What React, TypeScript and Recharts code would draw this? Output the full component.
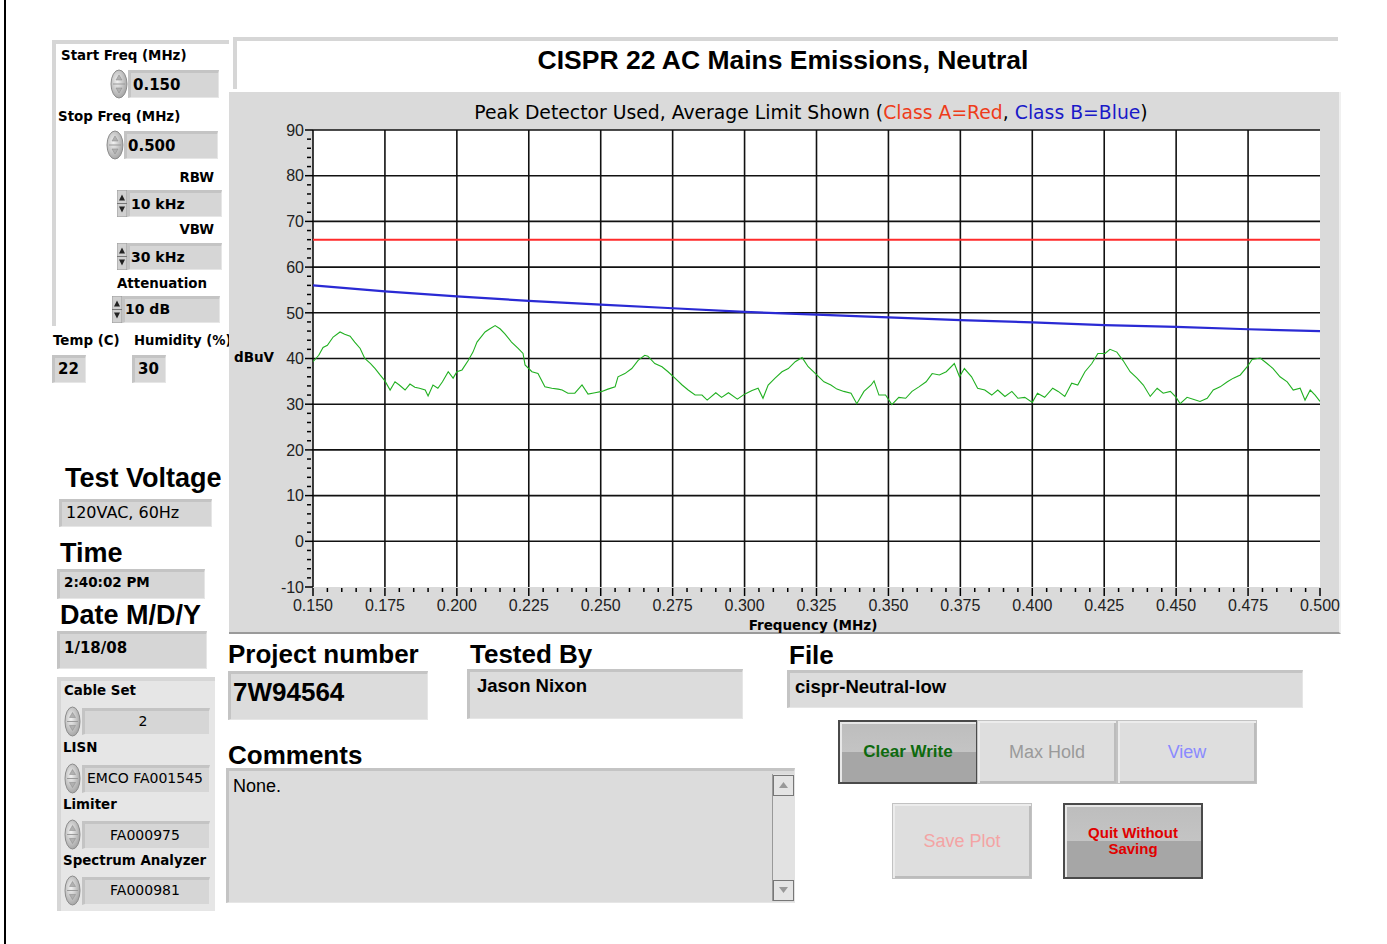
import React from "react";
import { LineChart, Line, XAxis, YAxis, CartesianGrid } from "recharts";

// ---- chart data ----
const xMajorTicks = [0.15, 0.175, 0.2, 0.225, 0.25, 0.275, 0.3, 0.325, 0.35, 0.375, 0.4, 0.425, 0.45, 0.475, 0.5];
const yMajorTicks = [-10, 0, 10, 20, 30, 40, 50, 60, 70, 80, 90];

// Class A average limit (red)
const classAFreq = [0.15, 0.5];
const classALevel = [66, 66];

// Class B average limit (blue)
const classBFreq = xMajorTicks;
const classBLevel = [56.0, 54.7, 53.6, 52.6, 51.8, 51.0, 50.2, 49.6, 49.0, 48.4, 47.9, 47.3, 46.9, 46.4, 46.0];

// measured peak trace (green)
const traceFreq = [
  0.15, 0.152, 0.1535, 0.155, 0.157, 0.1594, 0.161, 0.1629, 0.1645, 0.1664, 0.168, 0.17, 0.1716, 0.1733, 0.175,
  0.1768, 0.1785, 0.18, 0.182, 0.1837, 0.1854, 0.187, 0.189, 0.19, 0.1917, 0.1934, 0.195, 0.197, 0.1987, 0.2,
  0.2018, 0.204, 0.2056, 0.207, 0.2098, 0.2115, 0.2133, 0.215, 0.2167, 0.219, 0.2213, 0.223, 0.2237, 0.2261,
  0.2282, 0.2306, 0.233, 0.2352, 0.2366, 0.2386, 0.241, 0.2435, 0.2456, 0.248, 0.2504, 0.2525, 0.255, 0.256,
  0.2584, 0.2608, 0.263, 0.2653, 0.2664, 0.2688, 0.2713, 0.2734, 0.2758, 0.2783, 0.2804, 0.2828, 0.2852, 0.287,
  0.29, 0.292, 0.2944, 0.2975, 0.3, 0.3026, 0.3047, 0.3064, 0.3082, 0.3106, 0.313, 0.3152, 0.3176, 0.32, 0.3221,
  0.3251, 0.3276, 0.33, 0.3321, 0.3345, 0.337, 0.339, 0.3415, 0.344, 0.345, 0.3467, 0.349, 0.3512, 0.3536, 0.356,
  0.3582, 0.3606, 0.3631, 0.3652, 0.3677, 0.3701, 0.3729, 0.3747, 0.3764, 0.3789, 0.381, 0.3835, 0.3859, 0.388,
  0.3905, 0.3929, 0.395, 0.3974, 0.4, 0.4018, 0.4043, 0.4071, 0.409, 0.4113, 0.4137, 0.4158, 0.4183, 0.4207,
  0.4228, 0.4253, 0.427, 0.4294, 0.4315, 0.434, 0.4364, 0.4386, 0.441, 0.4434, 0.4455, 0.448, 0.45, 0.4514,
  0.4538, 0.4559, 0.4583, 0.4608, 0.4629, 0.4653, 0.4678, 0.4699, 0.4723, 0.4747, 0.4764, 0.4792, 0.4816,
  0.4837, 0.4861, 0.4886, 0.4907, 0.4931, 0.4948, 0.4966, 0.4983, 0.5,
];
const traceLevel = [
  39.3, 40.7, 42.4, 42.9, 44.7, 45.8, 45.3, 44.9, 43.6, 42.2, 40.0, 38.9, 37.8, 36.4, 35.1,
  33.1, 34.9, 34.2, 33.1, 34.4, 33.7, 33.5, 33.1, 31.8, 34.2, 33.5, 34.9, 37.1, 35.7, 37.1,
  37.5, 39.6, 41.4, 43.6, 45.8, 46.5, 47.2, 46.5, 45.4, 43.6, 42.2, 41.1, 38.6, 37.1,
  36.7, 33.8, 33.5, 33.3, 33.1, 32.4, 32.4, 34.2, 32.2, 32.5, 32.8, 33.3, 33.8, 36.0,
  36.7, 37.8, 39.6, 40.7, 40.5, 38.9, 38.2, 37.1, 35.7, 34.2, 33.1, 32.0, 32.0, 30.9,
  32.5, 31.5, 32.5, 31.1, 32.2, 33.0, 33.5, 31.3, 34.2, 35.7, 37.1, 37.8, 39.3, 40.2, 38.2,
  36.4, 34.9, 34.2, 33.3, 32.8, 32.4, 30.1, 32.8, 34.2, 35.1, 32.0, 32.0, 29.9, 31.5, 31.3,
  32.8, 33.8, 34.9, 36.7, 36.4, 37.1, 38.9, 36.0, 37.8, 36.0, 33.5, 33.1, 32.0, 33.1,
  31.7, 32.8, 31.3, 31.5, 30.4, 32.4, 31.5, 33.5, 32.8, 31.7, 34.6, 34.2, 37.1, 38.9,
  41.1, 41.1, 42.0, 41.4, 39.6, 37.1, 35.7, 34.2, 31.7, 33.5, 32.4, 32.8, 31.5, 30.1,
  31.5, 31.1, 30.6, 31.3, 33.1, 33.8, 34.9, 35.7, 36.4, 38.2, 39.8, 40.1, 38.9,
  37.8, 36.0, 34.9, 33.1, 33.5, 30.9, 33.1, 32.0, 30.6,
];

const classAData = classAFreq.map((f, i) => ({ f, v: classALevel[i] }));
const classBData = classBFreq.map((f, i) => ({ f, v: classBLevel[i] }));
const traceData = traceFreq.map((f, i) => ({ f, v: traceLevel[i] }));

// minor ticks: 5 subdivisions between major ticks
const xAllTicks: number[] = [];
xMajorTicks.forEach((t, i) => {
  if (i === 0) { xAllTicks.push(t); return; }
  const p = xMajorTicks[i - 1];
  for (let k = 1; k <= 5; k++) xAllTicks.push(+(p + ((t - p) * k) / 5).toFixed(4));
});
const yAllTicks: number[] = [];
yMajorTicks.forEach((t, i) => {
  if (i === 0) { yAllTicks.push(t); return; }
  const p = yMajorTicks[i - 1];
  for (let k = 1; k <= 5; k++) yAllTicks.push(+(p + ((t - p) * k) / 5).toFixed(2));
});
const isMajor = (v: number, list: number[]) => list.some((m) => Math.abs(m - v) < 1e-6);

const DJ = '"DejaVu Sans", sans-serif';
const LS = '"Liberation Sans", Arial, sans-serif';

// ---- small UI helpers ----
type TProps = {
  x: number; cy: number; size: number; bold?: boolean; family?: string;
  color?: string; anchor?: "start" | "middle" | "end"; children: React.ReactNode;
};
const T = ({ x, cy, size, bold, family = DJ, color = "#000", anchor = "start", children }: TProps) => (
  <div
    style={{
      position: "absolute", left: x, top: cy - size / 2, fontSize: size, lineHeight: `${size}px`,
      fontFamily: family, fontWeight: bold ? 700 : 400, color, whiteSpace: "nowrap",
      transform: anchor === "start" ? "none" : anchor === "middle" ? "translateX(-50%)" : "translateX(-100%)",
    }}
  >
    {children}
  </div>
);

const Box = ({ x, y, w, h, bg = "#d6d6d6" }: { x: number; y: number; w: number; h: number; bg?: string }) => (
  <div
    style={{
      position: "absolute", left: x, top: y, width: w, height: h, background: bg, boxSizing: "border-box",
      borderTop: "3px solid #c4c4c4", borderLeft: "3px solid #c4c4c4",
      borderBottom: "1px solid #e6e6e6", borderRight: "1px solid #e6e6e6",
    }}
  />
);

const Frame = ({ x, y, w, h, bg = "#fff" }: { x: number; y: number; w: number; h: number; bg?: string }) => (
  <div
    style={{
      position: "absolute", left: x, top: y, width: w, height: h, background: bg, boxSizing: "border-box",
      borderTop: "4px solid #d6d6d6", borderLeft: "4px solid #d6d6d6",
    }}
  />
);

const Spinner = ({ x, y, w = 18, h = 30 }: { x: number; y: number; w?: number; h?: number }) => (
  <svg style={{ position: "absolute", left: x, top: y }} width={w} height={h}>
    <defs>
      <radialGradient id="spinG" cx="40%" cy="40%" r="70%">
        <stop offset="0" stopColor="#f2f2f2" />
        <stop offset="1" stopColor="#9c9c9c" />
      </radialGradient>
    </defs>
    <ellipse cx={w / 2} cy={h / 2} rx={w / 2 - 1} ry={h / 2 - 1} fill="url(#spinG)" stroke="#8c8c8c" />
    <line x1={3} x2={w - 3} y1={h / 2} y2={h / 2} stroke="#9a9a9a" />
    <path d={`M${w / 2 - 3} ${h / 2 - 4} L${w / 2} ${h / 2 - 9} L${w / 2 + 3} ${h / 2 - 4} Z`} fill="#b0b0b0" stroke="#888" strokeWidth={0.5} />
    <path d={`M${w / 2 - 3} ${h / 2 + 4} L${w / 2} ${h / 2 + 9} L${w / 2 + 3} ${h / 2 + 4} Z`} fill="#b0b0b0" stroke="#888" strokeWidth={0.5} />
  </svg>
);

const Arrows = ({ x, y, h }: { x: number; y: number; h: number }) => (
  <svg style={{ position: "absolute", left: x, top: y }} width={10} height={h}>
    <rect x={0} y={0} width={10} height={h} fill="#d0d0d0" stroke="#999" />
    <line x1={0} x2={10} y1={h / 2} y2={h / 2} stroke="#777" />
    <path d={`M2 ${h / 2 - 3} L5 ${h / 2 - 9} L8 ${h / 2 - 3} Z`} fill="#222" />
    <path d={`M2 ${h / 2 + 3} L5 ${h / 2 + 9} L8 ${h / 2 + 3} Z`} fill="#222" />
  </svg>
);

const Button = ({
  x, y, w, h, pressed, color, children, size = 17, bold = false,
}: { x: number; y: number; w: number; h: number; pressed?: boolean; color: string; children: React.ReactNode; size?: number; bold?: boolean }) => (
  <div
    style={{
      position: "absolute", left: x, top: y, width: w, height: h, boxSizing: "border-box",
      background: pressed ? "linear-gradient(#bdbdbd 0%, #c4c4c4 50%, #a6a6a6 50%, #a6a6a6 100%)" : "#dedede",
      border: pressed ? "2px solid #4a4a4a" : "1px solid #c2c2c2",
      boxShadow: pressed ? "inset 2px 2px 0 #e8e8e8" : "inset 2px 2px 0 #ececec, inset -2px -2px 0 #bcbcbc",
      display: "flex", alignItems: "center", justifyContent: "center", textAlign: "center",
      fontFamily: LS, fontSize: size, fontWeight: bold ? 700 : 400, color, lineHeight: `${size + 1}px`,
    }}
  >
    {children}
  </div>
);

// ---- axis ticks ----
const XTick = (props: any) => {
  const { x, y, payload } = props;
  const major = isMajor(payload.value, xMajorTicks);
  return (
    <g>
      <line x1={x} x2={x} y1={y + 1} y2={y + (major ? 9 : 5)} stroke="#000" strokeWidth={1.5} />
      {major && (
        <text x={x} y={y + 18} dy="0.36em" textAnchor="middle" fontFamily={LS} fontSize={16} fill="#222">
          {payload.value.toFixed(3)}
        </text>
      )}
    </g>
  );
};

const YTick = (props: any) => {
  const { x, y, payload } = props;
  const major = isMajor(payload.value, yMajorTicks);
  return (
    <g>
      {major ? (
        <line x1={x - 8} x2={x} y1={y} y2={y} stroke="#000" strokeWidth={1.5} />
      ) : (
        <line x1={x - 6} x2={x - 2} y1={y} y2={y} stroke="#000" strokeWidth={1.5} />
      )}
      {major && (
        <text x={x - 9} y={y} dy="0.36em" textAnchor="end" fontFamily={LS} fontSize={16} fill="#222">
          {payload.value}
        </text>
      )}
    </g>
  );
};

const EmissionsChart = () => (
  <LineChart width={1112} height={541} margin={{ top: 38, right: 21, bottom: 0, left: 0 }}>
    <CartesianGrid
      fill="#ffffff"
      stroke="#111"
      strokeWidth={1.6}
      strokeOpacity={1}
      verticalValues={xMajorTicks.filter((t) => t < 0.5)}
      horizontalValues={yMajorTicks.filter((t) => t > -10)}
    />
    <XAxis
      type="number"
      dataKey="f"
      domain={[0.15, 0.5]}
      ticks={xAllTicks}
      interval={0}
      allowDataOverflow
      height={46}
      axisLine={false}
      tickLine={false}
      tickSize={0}
      tickMargin={0}
      tick={(p: any) => <XTick {...p} />}
    />
    <YAxis
      type="number"
      domain={[-10, 90]}
      ticks={yAllTicks}
      interval={0}
      allowDataOverflow
      width={84}
      axisLine={false}
      tickLine={false}
      tickSize={0}
      tickMargin={0}
      tick={(p: any) => <YTick {...p} />}
    />
    <Line data={classAData} dataKey="v" stroke="#ff2b2b" strokeWidth={2} dot={false} isAnimationActive={false} />
    <Line data={classBData} dataKey="v" stroke="#2a2ad4" strokeWidth={2.2} dot={false} isAnimationActive={false} />
    <Line data={traceData} dataKey="v" stroke="#21b021" strokeWidth={1.1} dot={false} isAnimationActive={false} />
  </LineChart>
);

export default function App() {
  return (
    <div style={{ position: "absolute", left: 0, top: 0, width: 1387, height: 944, background: "#fff", overflow: "hidden" }}>
      <div style={{ position: "absolute", left: 4, top: 0, width: 2, height: 944, background: "#000" }} />

      {/* left settings group */}
      <Frame x={52} y={40} w={177} h={286} />
      <T x={61} cy={56} size={13.4} bold>Start Freq (MHz)</T>
      <Spinner x={110} y={69} />
      <Box x={128} y={70} w={91} h={28} />
      <T x={133} cy={85} size={15} bold>0.150</T>
      <T x={58} cy={117} size={13.4} bold>Stop Freq (MHz)</T>
      <Spinner x={106} y={130} />
      <Box x={124} y={131} w={94} h={28} />
      <T x={128} cy={146} size={15} bold>0.500</T>
      <T x={214} cy={178} size={13.4} bold anchor="end">RBW</T>
      <Arrows x={117} y={190} h={27} />
      <Box x={127} y={190} w={95} h={27} />
      <T x={131} cy={204} size={14} bold>10 kHz</T>
      <T x={214} cy={230} size={13.4} bold anchor="end">VBW</T>
      <Arrows x={117} y={243} h={27} />
      <Box x={127} y={243} w={95} h={27} />
      <T x={131} cy={257} size={14} bold>30 kHz</T>
      <T x={117} cy={284} size={13.4} bold>Attenuation</T>
      <Arrows x={112} y={296} h={27} />
      <Box x={122} y={296} w={98} h={27} />
      <T x={125} cy={309} size={14} bold>10 dB</T>
      <T x={53} cy={341} size={13.4} bold>Temp (C)</T>
      <T x={134} cy={341} size={13.2} bold>Humidity (%)</T>
      <Box x={52} y={355} w={34} h={28} />
      <T x={58} cy={369} size={15} bold>22</T>
      <Box x={132} y={355} w={34} h={28} />
      <T x={138} cy={369} size={15} bold>30</T>

      {/* test conditions */}
      <T x={65} cy={478} size={27} bold family={LS}>Test Voltage</T>
      <Box x={59} y={499} w={153} h={28} />
      <T x={66} cy={513} size={16}>120VAC, 60Hz</T>
      <T x={60} cy={553} size={27} bold family={LS}>Time</T>
      <Box x={57} y={569} w={148} h={30} />
      <T x={64} cy={583} size={13.5} bold>2:40:02 PM</T>
      <T x={60} cy={615} size={27} bold family={LS}>Date M/D/Y</T>
      <Box x={57} y={631} w={150} h={38} />
      <T x={64} cy={648} size={15} bold>1/18/08</T>

      {/* equipment group */}
      <Frame x={57} y={677} w={158} h={234} bg="#e6e6e6" />
      <T x={64} cy={691} size={13.4} bold>Cable Set</T>
      <Spinner x={64} y={706} w={17} h={31} />
      <Box x={82} y={708} w={128} h={27} />
      <T x={143} cy={721} size={14} anchor="middle">2</T>
      <T x={63} cy={748} size={13.4} bold>LISN</T>
      <Spinner x={64} y={763} w={17} h={31} />
      <Box x={82} y={765} w={128} h={28} />
      <T x={145} cy={778} size={14} anchor="middle">EMCO FA001545</T>
      <T x={63} cy={805} size={13.4} bold>Limiter</T>
      <Spinner x={64} y={819} w={17} h={31} />
      <Box x={82} y={821} w={128} h={28} />
      <T x={145} cy={835} size={14} anchor="middle">FA000975</T>
      <T x={63} cy={861} size={13.4} bold>Spectrum Analyzer</T>
      <Spinner x={64} y={875} w={17} h={31} />
      <Box x={82} y={877} w={128} h={28} />
      <T x={145} cy={890} size={14} anchor="middle">FA000981</T>

      {/* title */}
      <Frame x={233} y={37} w={1105} h={52} />
      <T x={783} cy={60} size={26.5} bold family={LS} anchor="middle">CISPR 22 AC Mains Emissions, Neutral</T>

      {/* graph panel */}
      <div
        style={{
          position: "absolute", left: 229, top: 92, width: 1112, height: 542, background: "#dadada",
          boxSizing: "border-box", borderBottom: "2px solid #9a9a9a", borderRight: "2px solid #f0f0f0",
        }}
      >
        <EmissionsChart />
      </div>
      <T x={811} cy={113} size={18.8} anchor="middle">
        Peak Detector Used, Average Limit Shown (<span style={{ color: "#ee3c1a" }}>Class A=Red</span>,{" "}
        <span style={{ color: "#1a1ac8" }}>Class B=Blue</span>)
      </T>
      <T x={234} cy={358} size={13.5} bold>dBuV</T>
      <T x={813} cy={626} size={13.5} bold anchor="middle">Frequency (MHz)</T>

      {/* bottom fields */}
      <T x={228} cy={654} size={26} bold family={LS}>Project number</T>
      <Box x={228} y={671} w={200} h={49} bg="#dcdcdc" />
      <T x={233} cy={692} size={26} bold family={LS}>7W94564</T>
      <T x={470} cy={654} size={26} bold family={LS}>Tested By</T>
      <Box x={467} y={669} w={276} h={50} bg="#dcdcdc" />
      <T x={477} cy={686} size={18.5} bold family={LS}>Jason Nixon</T>
      <T x={789} cy={655} size={26} bold family={LS}>File</T>
      <Box x={787} y={670} w={516} h={38} bg="#dcdcdc" />
      <T x={795} cy={687} size={18.5} bold family={LS}>cispr-Neutral-low</T>
      <T x={228} cy={755} size={26} bold family={LS}>Comments</T>
      <Box x={226} y={768} w={569} h={135} bg="#dcdcdc" />
      <T x={233} cy={786} size={18} family={LS}>None.</T>
      <div style={{ position: "absolute", left: 772, top: 774, width: 22, height: 127, background: "#e2e2e2", borderLeft: "1px solid #999" }} />
      <svg style={{ position: "absolute", left: 773, top: 775 }} width={21} height={126}>
        <rect x={0.5} y={0.5} width={20} height={20} fill="#e4e4e4" stroke="#777" />
        <path d="M6 13 L10.5 7 L15 13 Z" fill="#999" />
        <rect x={0.5} y={105.5} width={20} height={20} fill="#e4e4e4" stroke="#777" />
        <path d="M6 112 L10.5 118 L15 112 Z" fill="#999" />
      </svg>

      {/* buttons */}
      <Button x={838} y={720} w={140} h={64} pressed color="#0e6a0e" bold size={17}>Clear Write</Button>
      <Button x={977} y={720} w={140} h={64} color="#9a9a9a" size={18}>Max Hold</Button>
      <Button x={1117} y={720} w={140} h={64} color="#8a8aff" size={18}>View</Button>
      <Button x={892} y={803} w={140} h={76} color="#f4a4a4" size={18}>Save Plot</Button>
      <Button x={1063} y={803} w={140} h={76} pressed color="#e00000" bold size={15}>
        Quit Without<br />Saving
      </Button>
    </div>
  );
}
